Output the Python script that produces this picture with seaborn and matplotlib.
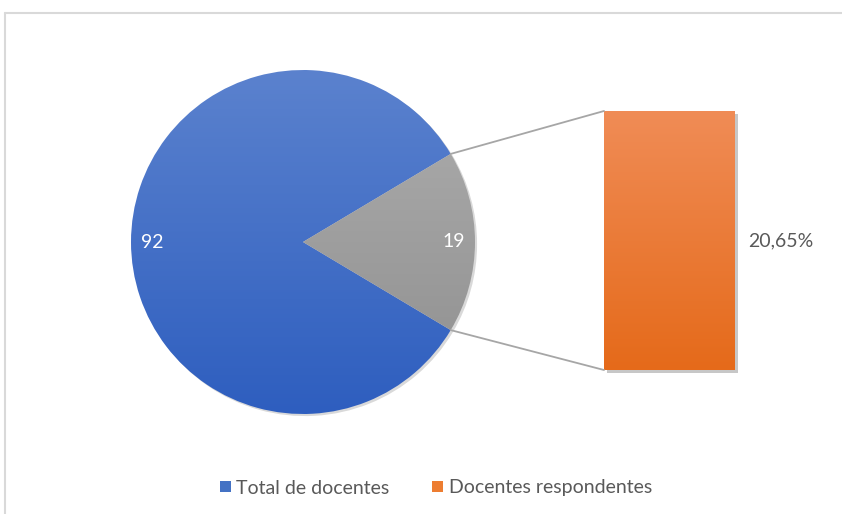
import numpy as np
import pandas as pd
import matplotlib
matplotlib.use("Agg")
import matplotlib.pyplot as plt
import seaborn as sns
from matplotlib.colors import LinearSegmentedColormap
from matplotlib.patches import ConnectionPatch, Rectangle
from matplotlib.lines import Line2D
import matplotlib.patheffects as pe

sns.set_theme(style="white")
plt.rcParams["font.family"] = ["Lato", "DejaVu Sans"]

# Data
categories = ["Total de docentes", "Docentes respondentes"]
pie_values = [92, 19]
bar_values = [20.65]
bar_labels = ["20,65%"]

BLUE_TOP, BLUE_BOTTOM = "#5B82CE", "#2E5EBF"
GREY_TOP, GREY_BOTTOM = "#AEAEAE", "#8E8E8E"
ORANGE_TOP, ORANGE_BOTTOM = "#F08C56", "#E56A1A"
BLUE_KEY, ORANGE_KEY = "#4472C4", "#ED7D31"
TEXT = "#595959"
LINE = "#A6A6A6"
FS = 14

W, H = 842, 514
fig = plt.figure(figsize=(W / 100, H / 100), dpi=100)
fig.patch.set_facecolor("white")


def gradient_fill(ax, patch, top, bottom, extent):
    cmap = LinearSegmentedColormap.from_list("grad", [bottom, top])
    grad = np.linspace(0, 1, 256).reshape(-1, 1)
    im = ax.imshow(grad, cmap=cmap, extent=extent, origin="lower",
                   aspect="auto", zorder=2, interpolation="bicubic")
    im.set_clip_path(patch)
    return im


# Pie of totals
cx, cy, r = 303, 242, 172
lim = 1.05
half = r * lim
ax_pie = fig.add_axes([(cx - half) / W, (H - cy - half) / H, 2 * half / W, 2 * half / H])
total = sum(pie_values)
half_angle = 360 * pie_values[1] / total / 2
wedges, _ = ax_pie.pie(pie_values, startangle=half_angle, counterclock=True,
                       colors=[BLUE_BOTTOM, GREY_BOTTOM])
shadow = [pe.SimplePatchShadow(offset=(1.5, -1.5), shadow_rgbFace="black", alpha=0.15)]
for w, (top, bot) in zip(wedges, [(BLUE_TOP, BLUE_BOTTOM), (GREY_TOP, GREY_BOTTOM)]):
    w.set_path_effects(shadow)
    w.set_zorder(1)
    gradient_fill(ax_pie, w, top, bot, (-1, 1, -1, 1))
    w.set_facecolor("none")
    w.set_edgecolor("none")
ax_pie.set_xlim(-lim, lim)
ax_pie.set_ylim(-lim, lim)
ax_pie.set_aspect("equal")
ax_pie.axis("off")

for w, v in zip(wedges, pie_values):
    mid = np.deg2rad((w.theta1 + w.theta2) / 2)
    ax_pie.text(0.875 * np.cos(mid), 0.875 * np.sin(mid), f"{v}", color="white",
                fontsize=FS, ha="center", va="center", zorder=5)

# Bar of the respondent share
bx0, bx1, by0, by1 = 604, 735, 111, 370
ax_bar = fig.add_axes([bx0 / W, (H - by1) / H, (bx1 - bx0) / W, (by1 - by0) / H])
df = pd.DataFrame({"grupo": [categories[1]], "pct": bar_values})
sns.barplot(data=df, x="grupo", y="pct", width=1, color=ORANGE_BOTTOM, ax=ax_bar)
bar = ax_bar.patches[0]
bar.set_clip_on(False)
bar.set_path_effects([pe.SimplePatchShadow(offset=(2, -2.5), shadow_rgbFace="black", alpha=0.22)])
gradient_fill(ax_bar, bar, ORANGE_TOP, ORANGE_BOTTOM, (-0.5, 0.5, 0, bar_values[0]))
bar.set_facecolor("none")
ax_bar.set_xlim(-0.5, 0.5)
ax_bar.set_ylim(0, bar_values[0])
ax_bar.axis("off")
ax_bar.text(1 + 13 / (bx1 - bx0), 0.5, bar_labels[0], transform=ax_bar.transAxes,
            color=TEXT, fontsize=FS, ha="left", va="center")

# Connector lines from the slice edges to the bar corners
t = np.deg2rad(half_angle)
for sgn, corner in [(1, (0, 1)), (-1, (0, 0))]:
    con = ConnectionPatch(xyA=(np.cos(t), sgn * np.sin(t)), coordsA=ax_pie.transData,
                          xyB=corner, coordsB=ax_bar.transAxes, color=LINE, lw=1.3)
    fig.add_artist(con)

# Legend
handles = [Rectangle((0, 0), 1, 1, fc=BLUE_KEY, ec="none"),
           Rectangle((0, 0), 1, 1, fc=ORANGE_KEY, ec="none")]
fig.legend(handles, categories, loc="center", bbox_to_anchor=(436 / W, 1 - 488 / H),
           ncol=2, frameon=False, handlelength=0.55, handleheight=0.55,
           handletextpad=0.3, columnspacing=2.2, fontsize=FS, labelcolor=TEXT)

# Chart frame
fig.add_artist(Line2D([5 / W, 1.0], [1 - 13 / H] * 2, color="#D9D9D9", lw=1.5,
                      transform=fig.transFigure))
fig.add_artist(Line2D([5 / W] * 2, [0, 1 - 13 / H], color="#D9D9D9", lw=1.5,
                      transform=fig.transFigure))

fig.savefig("out.png", dpi=100, facecolor="white")
